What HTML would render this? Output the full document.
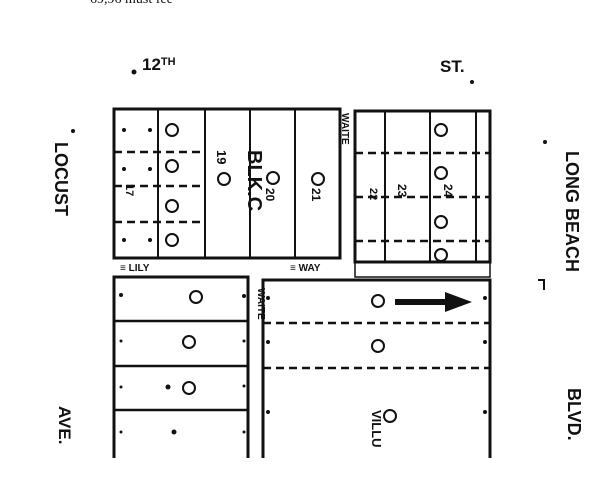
<!DOCTYPE html>
<html><head><meta charset="utf-8"><style>
html,body{margin:0;padding:0;background:#fff;}
svg{display:block}
text{font-family:"Liberation Sans",Arial,sans-serif;font-weight:bold;fill:#111}
</style></head><body>
<svg width="601" height="488" viewBox="0 0 601 488" xmlns="http://www.w3.org/2000/svg">
<rect width="601" height="488" fill="#fff"/>
<text x="90" y="3" font-family="Liberation Serif" font-weight="normal" font-size="14" style="font-family:'Liberation Serif';font-weight:normal">69,96 must fee</text>
<text x="142" y="70" font-size="17">12<tspan font-size="11" dy="-5">TH</tspan></text>
<text x="440" y="72" font-size="17">ST.</text>
<text transform="translate(55,142) rotate(90)" font-size="18">LOCUST</text>
<text transform="translate(59,406) rotate(90)" font-size="17">AVE.</text>
<text transform="translate(566,151) rotate(90)" font-size="18">LONG  BEACH</text>
<text transform="translate(568,388) rotate(90)" font-size="18">BLVD.</text>
<g stroke="#111" fill="none">
<!-- top-left block -->
<rect x="114" y="109" width="226" height="149" stroke-width="3"/>
<line x1="158" y1="109" x2="158" y2="258" stroke-width="2"/>
<line x1="205" y1="109" x2="205" y2="258" stroke-width="2"/>
<line x1="250" y1="109" x2="250" y2="258" stroke-width="2"/>
<line x1="295" y1="109" x2="295" y2="258" stroke-width="2"/>
<g stroke-dasharray="8,5" stroke-width="2.5">
<line x1="114" y1="152" x2="205" y2="152"/><line x1="114" y1="186" x2="205" y2="186"/><line x1="114" y1="222" x2="205" y2="222"/>
</g>
<!-- top-right block -->
<rect x="355" y="111" width="135" height="151" stroke-width="3"/>
<line x1="385" y1="111" x2="385" y2="262" stroke-width="2"/>
<line x1="430" y1="111" x2="430" y2="262" stroke-width="2"/>
<line x1="476" y1="111" x2="476" y2="262" stroke-width="2"/>
<g stroke-dasharray="8,5" stroke-width="2.5">
<line x1="355" y1="153" x2="490" y2="153"/><line x1="355" y1="197" x2="490" y2="197"/><line x1="355" y1="241" x2="490" y2="241"/>
</g>
<rect x="355" y="262" width="135" height="15" stroke-width="1.5"/>
<!-- bottom-left -->
<path d="M114 458 V277 H248 V458" stroke-width="3"/>
<line x1="114" y1="321" x2="248" y2="321" stroke-width="2.5"/>
<line x1="114" y1="366" x2="248" y2="366" stroke-width="2.5"/>
<line x1="114" y1="410" x2="248" y2="410" stroke-width="2.5"/>
<!-- bottom-right -->
<path d="M263 458 V280 H490 V458" stroke-width="3"/>
<g stroke-dasharray="8,5" stroke-width="2.5">
<line x1="263" y1="323" x2="490" y2="323"/><line x1="263" y1="368" x2="490" y2="368"/>
</g>
<!-- circles -->
<g stroke-width="2">
<circle cx="172" cy="130" r="6"/><circle cx="172" cy="166" r="6"/><circle cx="172" cy="206" r="6"/><circle cx="172" cy="240" r="6"/>
<circle cx="224" cy="179" r="6"/><circle cx="273" cy="178" r="6"/><circle cx="318" cy="179" r="6"/>
<circle cx="441" cy="130" r="6"/><circle cx="441" cy="173" r="6"/><circle cx="441" cy="222" r="6"/><circle cx="441" cy="255" r="6"/>
<circle cx="196" cy="297" r="6"/><circle cx="189" cy="342" r="6"/><circle cx="189" cy="388" r="6"/>
<circle cx="378" cy="301" r="6"/><circle cx="378" cy="346" r="6"/><circle cx="390" cy="416" r="6"/>
</g>
</g>
<path d="M395 299 H445 V292 L472 302 L445 312 V305 H395 Z" fill="#111"/>
<text transform="translate(217,150) rotate(90)" font-size="13">19</text>
<text transform="translate(248,150) rotate(90)" font-size="20">BLK.C</text>
<text transform="translate(266,188) rotate(90)" font-size="12">20</text>
<text transform="translate(312,188) rotate(90)" font-size="12">21</text>
<text transform="translate(342,113) rotate(90)" font-size="10">WAITE</text>
<text transform="translate(258,288) rotate(90)" font-size="10">WAITE</text>
<text transform="translate(372,410) rotate(90)" font-size="13">VILLU</text>
<text x="120" y="271" font-size="10">≡ LILY</text>
<text x="290" y="271" font-size="10">≡ WAY</text>
<text transform="translate(398,184) rotate(90)" font-size="12">23</text>
<text transform="translate(444,184) rotate(90)" font-size="12">24</text>
<text transform="translate(370,188) rotate(90)" font-size="11">22</text>
<text transform="translate(126,184) rotate(90)" font-size="11">17</text>
<g fill="#111">
<circle cx="121" cy="341" r="1.5"/><circle cx="121" cy="387" r="1.5"/><circle cx="121" cy="432" r="1.5"/><circle cx="121" cy="295" r="2"/>
<circle cx="244" cy="341" r="1.5"/><circle cx="244" cy="386" r="1.5"/><circle cx="244" cy="432" r="1.5"/><circle cx="244" cy="296" r="2"/>
<circle cx="174" cy="432" r="2.5"/><circle cx="168" cy="387" r="2.5"/><circle cx="268" cy="298" r="2"/><circle cx="268" cy="342" r="2"/><circle cx="268" cy="412" r="2"/>
<circle cx="485" cy="298" r="2"/><circle cx="485" cy="342" r="2"/><circle cx="485" cy="412" r="2"/>
<circle cx="124" cy="130" r="2"/><circle cx="150" cy="130" r="2"/><circle cx="124" cy="169" r="2"/><circle cx="150" cy="169" r="2"/><circle cx="124" cy="240" r="2"/><circle cx="150" cy="240" r="2"/>
<circle cx="134" cy="72" r="2.5"/><circle cx="472" cy="82" r="2"/><circle cx="73" cy="131" r="2"/><circle cx="545" cy="142" r="2"/>
</g>
<path d="M538 280 h6 v10" stroke="#111" stroke-width="2" fill="none"/>
</svg>
</body></html>
